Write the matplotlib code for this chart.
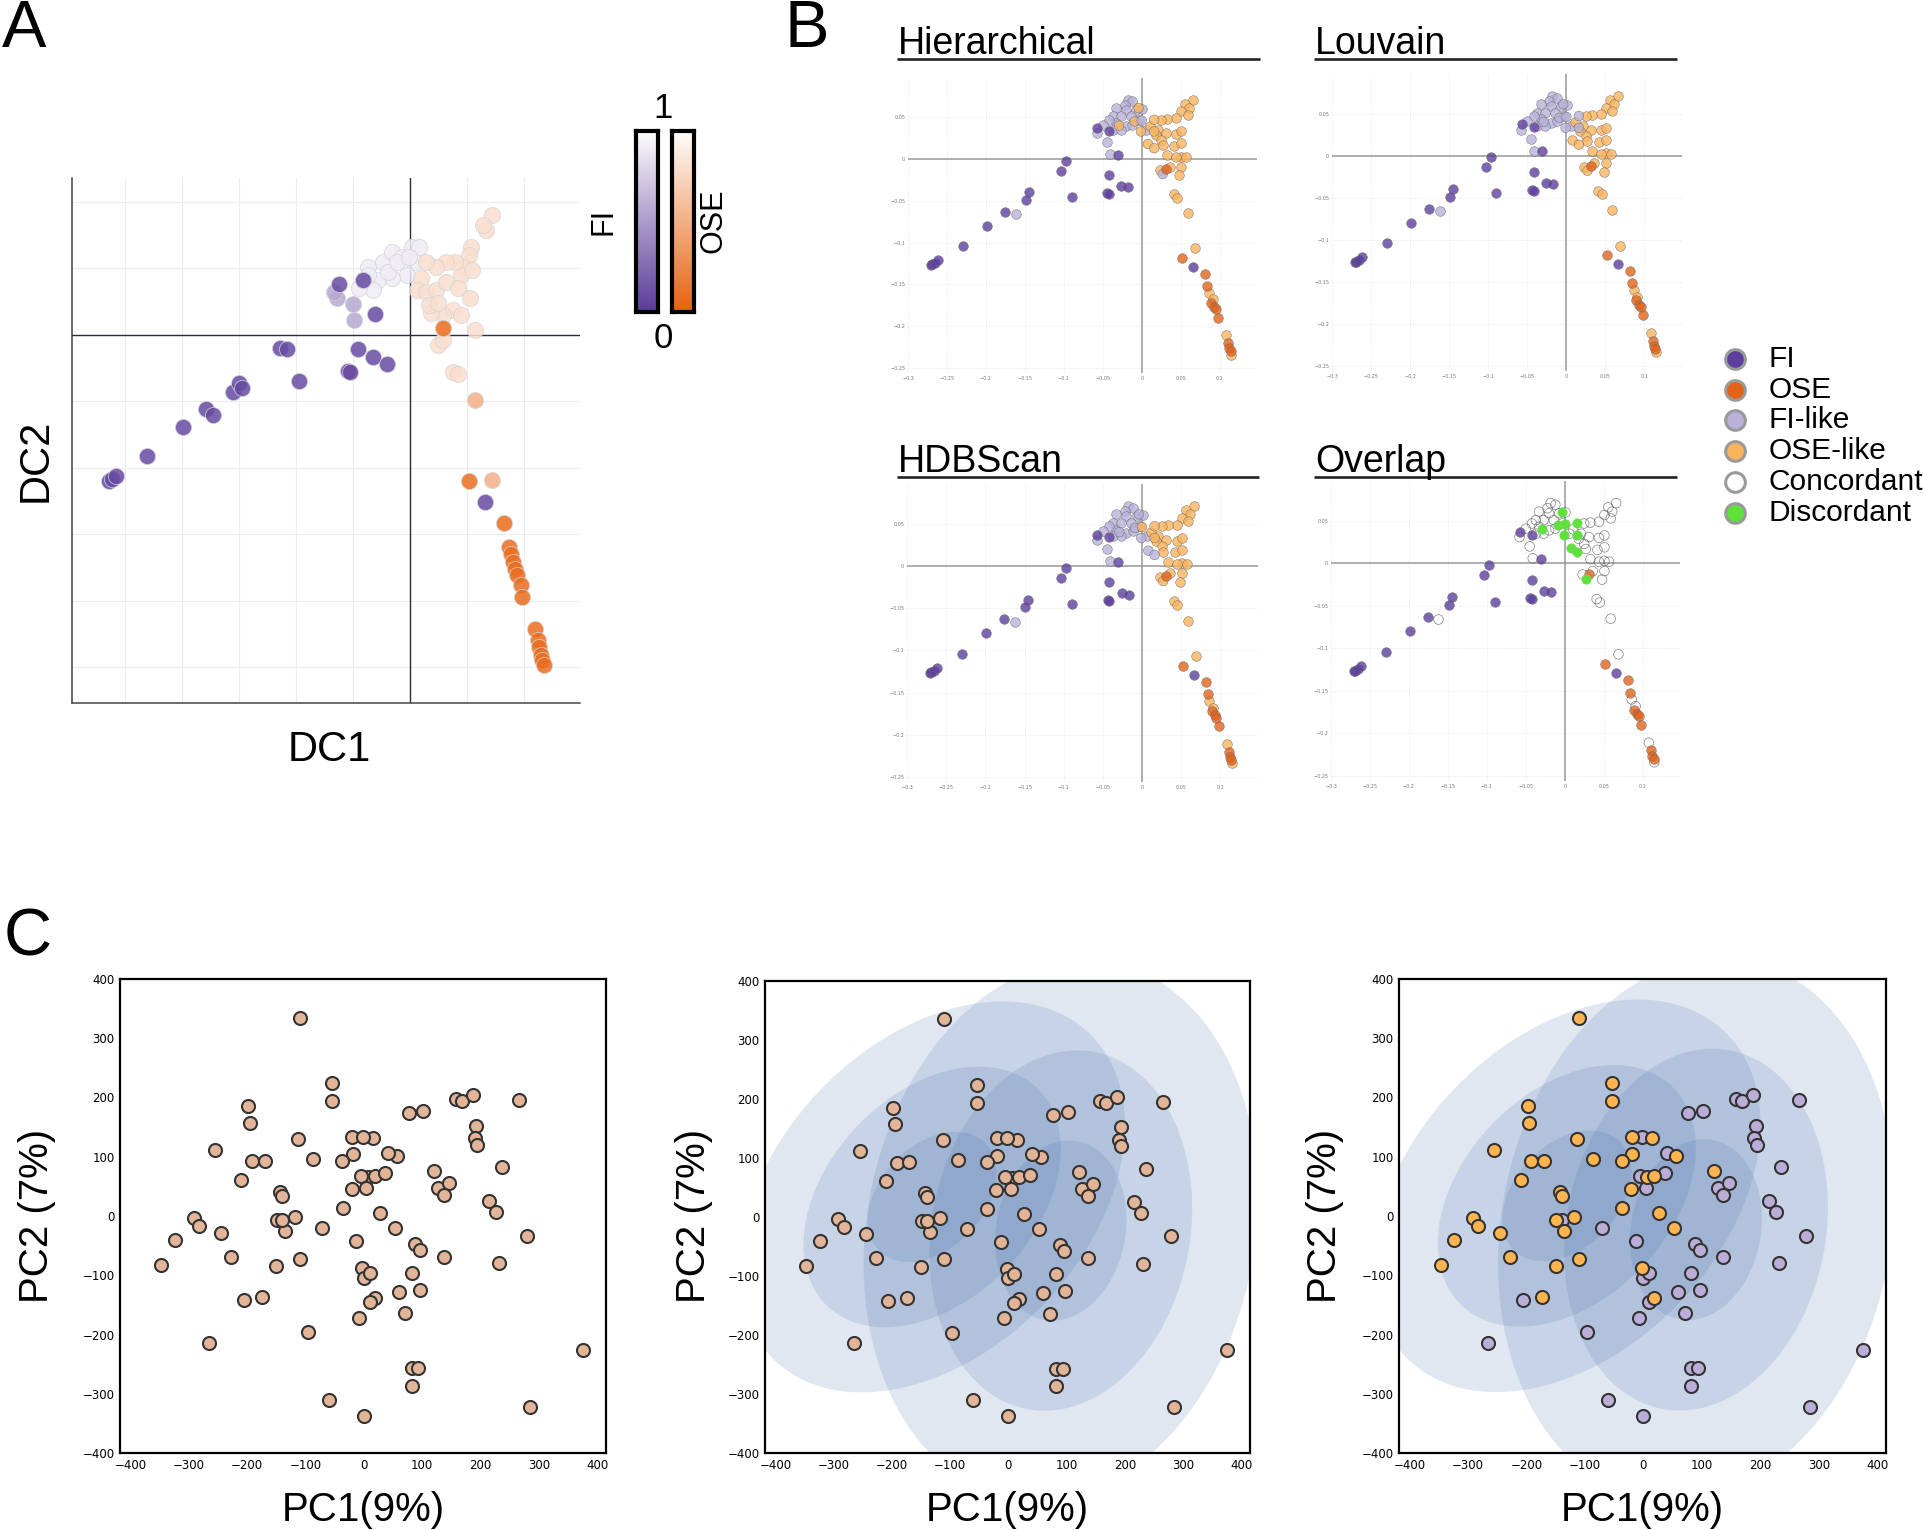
import numpy as np
import matplotlib
matplotlib.use("Agg")
import matplotlib.pyplot as plt
from matplotlib.patches import Ellipse
from matplotlib.colors import LinearSegmentedColormap

W, H = 1924, 1530
SANS = "Liberation Sans"

# ---- panel A: diffusion components (grid units, no ticks shown) -------------
a_fi_x = [-5.29, -5.23, -5.16, -4.63, -3.98, -3.58, -3.46, -3.11, -3.00, -2.96, -2.28,
          -2.16, -1.95, -1.09, -1.06, -0.92, -0.65, -0.41, -0.62, -1.24, -0.83, 1.32]
a_fi_y = [-2.20, -2.17, -2.13, -1.83, -1.38, -1.12, -1.20, -0.86, -0.73, -0.80, -0.20,
          -0.21, -0.69, -0.54, -0.56, -0.21, -0.33, -0.44, 0.32, 0.77, 0.83, -2.51]
a_fimid_x = [-1.29, -0.99, -1.00, -1.33]
a_fimid_y = [0.56, 0.22, 0.47, 0.64]
a_filike_x = [-0.73, -0.48, -0.31, -0.14, 0.03, 0.08, -0.05, -0.31, -0.56, -0.65, -0.90,
              -0.73, -0.39, 0.16, -0.22, -0.01]
a_filike_y = [1.02, 1.09, 1.24, 1.17, 1.32, 1.09, 0.90, 0.86, 0.83, 0.67, 0.71,
              0.90, 0.94, 1.32, 1.09, 1.17]
a_oselike_x = [1.44, 1.34, 1.29, 1.07, 1.04, 0.93, 0.89, 1.10, 0.80, 0.63, 0.46, 0.29,
               0.20, 0.12, 0.29, 0.46, 0.63, 0.84, 1.06, 0.76, 0.59, 0.37, 0.89, 0.33,
               0.50, 1.14, 0.50, 0.59, 0.76, 0.84]
a_oselike_y = [1.80, 1.58, 1.66, 1.32, 1.20, 1.02, 0.90, 0.98, 1.09, 1.09, 1.02, 1.09,
               0.86, 0.67, 0.64, 0.67, 0.79, 0.71, 0.56, 0.37, 0.30, 0.33, 0.30, 0.45,
               0.48, 0.07, -0.16, -0.08, -0.56, -0.59]
a_osemid_x = [1.14, 1.44]
a_osemid_y = [-0.98, -2.19]
a_ose_x = [0.59, 1.03, 1.65, 1.74, 1.78, 1.82, 1.84, 1.89, 1.95, 1.97, 2.20, 2.25,
           2.27, 2.31, 2.33, 2.35]
a_ose_y = [0.11, -2.20, -2.83, -3.19, -3.30, -3.42, -3.53, -3.61, -3.76, -3.95, -4.42,
           -4.59, -4.70, -4.82, -4.89, -4.97]
# colour-bar value given to each group (0 = dark, 1 = white)
a_scores = {"fi": 0.08, "fimid": 0.55, "filike": 0.9, "oselike": 0.8, "osemid": 0.5, "ose": 0.08}

# ---- panel B: DC1 / DC2 with cluster calls ----------------------------------
fi_x = [-0.271, -0.269, -0.265, -0.262, -0.230, -0.199, -0.176, -0.145, -0.149, -0.103,
        -0.097, -0.090, -0.042, -0.044, -0.042, -0.026, -0.017, -0.031, 0.066, -0.057, -0.042]
fi_y = [-0.127, -0.126, -0.124, -0.121, -0.104, -0.080, -0.063, -0.040, -0.049, -0.014,
        -0.002, -0.045, -0.019, -0.041, -0.042, -0.032, -0.034, 0.005, -0.129, 0.037, 0.034]
ose_x = [0.052, 0.081, 0.084, 0.089, 0.093, 0.095, 0.098, 0.111, 0.112, 0.114, 0.031]
ose_y = [-0.118, -0.137, -0.152, -0.172, -0.177, -0.180, -0.190, -0.220, -0.226, -0.230, -0.012]
fil_x = [-0.162, -0.045, -0.041, -0.058, -0.018, -0.012, -0.022, -0.033, -0.020, -0.007,
         0.001, -0.037, -0.027, -0.014, -0.003, -0.033, -0.020, -0.037, -0.027, -0.012,
         0.006, -0.042, -0.050]
fil_y = [-0.066, 0.020, 0.006, 0.031, 0.071, 0.069, 0.065, 0.061, 0.059, 0.059,
         0.060, 0.051, 0.051, 0.051, 0.047, 0.043, 0.039, 0.035, 0.035, 0.041,
         0.035, 0.047, 0.041]
osel_x = [0.066, 0.056, 0.061, 0.051, 0.059, 0.044, 0.033, 0.025, 0.011, 0.021, 0.031,
          0.044, 0.051, 0.018, 0.025, 0.027, 0.042, 0.051, 0.033, 0.051, 0.057, 0.044,
          0.036, 0.051, 0.023, 0.048, 0.041, 0.045, 0.059, 0.069, 0.086, 0.091, 0.108, 0.115]
osel_y = [0.071, 0.066, 0.061, 0.057, 0.053, 0.049, 0.048, 0.047, 0.040, 0.035, 0.031,
          0.030, 0.033, 0.029, 0.023, 0.017, 0.016, 0.019, 0.005, 0.003, 0.002, 0.002,
          -0.009, -0.009, -0.013, -0.019, -0.042, -0.046, -0.065, -0.107, -0.160, -0.168,
          -0.211, -0.234]
# cells the three methods disagree on
dis_x = [-0.029, -0.004, -0.009, 0.000, 0.016, -0.001, 0.016, 0.008, 0.016, 0.027]
dis_y = [0.040, 0.061, 0.045, 0.046, 0.047, 0.033, 0.033, 0.018, 0.013, -0.018]
dis_hier = ["OSE-like", "OSE-like", "OSE-like", "FI-like", "OSE-like", "OSE-like",
            "OSE-like", "OSE-like", "OSE-like", "FI-like"]
dis_louv = ["FI-like", "FI-like", "FI-like", "FI-like", "FI-like", "FI-like",
            "FI-like", "OSE-like", "OSE-like", "OSE-like"]
dis_hdb = ["FI-like", "FI-like", "FI-like", "OSE-like", "OSE-like", "FI-like",
           "OSE-like", "FI-like", "FI-like", "OSE-like"]
b_ticks_x = [-0.3, -0.25, -0.2, -0.15, -0.1, -0.05, 0, 0.05, 0.1]
b_ticks_y = [-0.25, -0.2, -0.15, -0.1, -0.05, 0, 0.05]

# ---- panel C: PCA ------------------------------------------------------------
c_or_x = [-110, -54, -54, -198, -195, -255, -192, -170, -210, -113, -87, -143, -140, -292,
          -283, -324, -245, -347, -228, -149, -135, -118, -150, -110, -174, -20, 15, -19,
          -37, 7, 19, -21, -36, 27, 56, 121, 53, -3, 19]
c_or_y = [335, 224, 194, 185, 157, 112, 92, 93, 61, 130, 96, 41, 34, -4,
          -17, -41, -28, -83, -70, -6, -25, -2, -85, -72, -137, 134, 131, 104,
          93, 66, 68, 45, 13, 5, 102, 76, -20, -88, -139]
c_pu_x = [-140, -71, -206, -265, -96, -60, 0, -2, -5, 37, 4, 41, 77, 102, 127, 146, 137,
          158, 168, 187, 193, 190, 194, 266, 236, 215, 227, 279, 232, 376, 285, -13, 88,
          96, 137, 0, 10, 82, 97, 60, 10, -8, 71, 82, 93, 82]
c_pu_y = [-6, -20, -142, -214, -196, -311, -337, 134, 68, 72, 47, 106, 173, 178, 47, 56, 36,
          197, 194, 204, 152, 131, 120, 195, 82, 25, 7, -33, -80, -226, -322, -42, -47,
          -58, -69, -104, -97, -96, -125, -129, -145, -172, -164, -257, -257, -287]
# confidence ellipses (1, 2, 3 sd) of the two groups
ell_cx = [-131, 90]
ell_cy = [34, -23]
ell_a = [129, 154]
ell_b = [88, 111]
ell_ang = [45, 79]
ell_k = [1, 2, 3]

C_FI, C_OSE = "#5d3f9e", "#e2631b"
C_FIL, C_OSEL = "#b9b1da", "#fbb45e"
C_DIS = "#5ee23a"
FI_CMAP = LinearSegmentedColormap.from_list("fi", ["#5a3b99", "#ffffff"])
OSE_CMAP = LinearSegmentedColormap.from_list("ose", ["#e8610c", "#ffffff"])
LAB_COL = {"FI-like": C_FIL, "OSE-like": C_OSEL}

fig = plt.figure(figsize=(W / 100, H / 100), dpi=100)


def box(l, t, w, h):
    return fig.add_axes([l / W, 1 - (t + h) / H, w / W, h / H])


# ---- A -------------------------------------------------------------------------
axA = box(72, 178, 508, 525)
axA.set_xlim(-5.94, 2.99); axA.set_ylim(-5.54, 2.36)
axA.set_xticks(range(-5, 3)); axA.set_yticks(range(-5, 3))
axA.tick_params(length=0, labelbottom=False, labelleft=False)
axA.grid(True, color="#ececf0", lw=0.8)
for s in ("top", "right"):
    axA.spines[s].set_visible(False)
for s in ("left", "bottom"):
    axA.spines[s].set_color("#444"); axA.spines[s].set_linewidth(1.1)
axA.axvline(0, color="#2a2a44", lw=1.0, zorder=2)
axA.axhline(0, color="#2a2a44", lw=1.0, zorder=2)
for xs, ys, key, cm in [(a_filike_x, a_filike_y, "filike", FI_CMAP),
                        (a_oselike_x, a_oselike_y, "oselike", OSE_CMAP),
                        (a_fimid_x, a_fimid_y, "fimid", FI_CMAP),
                        (a_osemid_x, a_osemid_y, "osemid", OSE_CMAP),
                        (a_fi_x, a_fi_y, "fi", FI_CMAP),
                        (a_ose_x, a_ose_y, "ose", OSE_CMAP)]:
    axA.scatter(xs, ys, s=135, color=cm(a_scores[key]), alpha=0.85,
                edgecolors="#d4d4d8", linewidths=0.6, zorder=3)

grad = np.linspace(0, 1, 256)[:, None]
for l, cm in [(636, FI_CMAP), (672, OSE_CMAP)]:
    cb = box(l, 131, 22, 181)
    cb.imshow(grad, cmap=cm, origin="lower", aspect="auto")
    cb.set_xticks([]); cb.set_yticks([])
    for s in cb.spines.values():
        s.set_linewidth(3); s.set_color("black")

# ---- B -------------------------------------------------------------------------
def fmt(v):
    return "0" if v == 0 else f"{v:g}".replace("-", "\u2212")


def b_axes(l, t, w, h):
    ax = box(l, t, w, h)
    ax.set_xlim(-0.3, 0.148); ax.set_ylim(-0.256, 0.097)
    ax.set_xticks(b_ticks_x); ax.set_yticks(b_ticks_y)
    ax.set_xticklabels([fmt(v) for v in b_ticks_x])
    ax.set_yticklabels([fmt(v) for v in b_ticks_y])
    ax.tick_params(length=0, labelsize=3.5, labelcolor="#777", pad=2)
    ax.grid(True, color="#eeeeee", lw=0.6, ls=(0, (2, 1)))
    for s in ax.spines.values():
        s.set_visible(False)
    ax.axvline(0, color="#999", lw=1.1, zorder=2)
    ax.axhline(0, color="#999", lw=1.1, zorder=2)
    return ax


kw = dict(s=48, alpha=0.8, edgecolors="#666", linewidths=0.4, zorder=3)
for (l, t, w, h), labels in [((908, 78, 349, 295), dis_hier),
                             ((1332, 74, 350, 297), dis_louv),
                             ((907, 484, 351, 298), dis_hdb)]:
    ax = b_axes(l, t, w, h)
    ax.scatter(fil_x, fil_y, color=C_FIL, **kw)
    ax.scatter(osel_x, osel_y, color=C_OSEL, **kw)
    ax.scatter(dis_x, dis_y, color=[LAB_COL[c] for c in labels], **kw)
    ax.scatter(fi_x, fi_y, color=C_FI, **kw)
    ax.scatter(ose_x, ose_y, color=C_OSE, **kw)

axO = b_axes(1331, 481, 349, 300)
axO.scatter(fil_x + osel_x, fil_y + osel_y, s=48, facecolors="none",
            edgecolors="#555", linewidths=0.5, alpha=0.75, zorder=3)
axO.scatter(dis_x, dis_y, color=C_DIS, s=48, edgecolors="#8c8", linewidths=0.3, zorder=4)
axO.scatter(fi_x, fi_y, color=C_FI, **kw)
axO.scatter(ose_x, ose_y, color=C_OSE, **kw)

# ---- C -------------------------------------------------------------------------
C_TAN, C_OR, C_PU = "#e3b598", "#ffb44f", "#baaed9"


def c_axes(l, t, w, h, ellipses):
    ax = box(l, t, w, h)
    ax.set_xlim(-418, 415); ax.set_ylim(-400, 400)
    ax.set_xticks(range(-400, 401, 100)); ax.set_yticks(range(-400, 401, 100))
    ax.tick_params(length=0, labelsize=8.5, pad=4)
    for s in ax.spines.values():
        s.set_linewidth(1.6); s.set_color("black")
    if ellipses:
        for cx, cy, a, b, ang in zip(ell_cx, ell_cy, ell_a, ell_b, ell_ang):
            for k in ell_k:
                ax.add_patch(Ellipse((cx, cy), 2 * k * a, 2 * k * b, angle=ang,
                                     facecolor="#4c72b0", edgecolor="none",
                                     alpha=0.17, zorder=1))
    return ax


ckw = dict(s=88, edgecolors="#333", linewidths=1.5, zorder=3)
ax = c_axes(120, 979, 486, 474, False)
ax.scatter(c_or_x + c_pu_x, c_or_y + c_pu_y, color=C_TAN, **ckw)
ax = c_axes(765, 981, 485, 472, True)
ax.scatter(c_or_x + c_pu_x, c_or_y + c_pu_y, color=C_TAN, **ckw)
ax = c_axes(1399, 979, 487, 474, True)
ax.scatter(c_pu_x, c_pu_y, color=C_PU, **ckw)
ax.scatter(c_or_x, c_or_y, color=C_OR, **ckw)

# ---- overlay: panel letters, labels, titles, legend ---------------------------
ov = fig.add_axes([0, 0, 1, 1])
ov.set_xlim(0, W); ov.set_ylim(H, 0); ov.axis("off")

for x, y, s in [(2, 47, "A"), (785, 47, "B"), (4, 955, "C")]:
    ov.text(x, y, s, fontsize=48, family=SANS, va="baseline")

ov.text(329, 761, "DC1", fontsize=30, family=SANS, ha="center", va="baseline")
ov.text(36, 460, "DC2", fontsize=30, family=SANS, ha="center", va="center", rotation=90)
ov.text(663, 108, "1", fontsize=25, family=SANS, ha="center", va="center")
ov.text(663, 338, "0", fontsize=25, family=SANS, ha="center", va="center")
ov.text(604, 221, "FI", fontsize=22, family=SANS, ha="center", va="center", rotation=90)
ov.text(714, 221, "OSE", fontsize=22, family=SANS, ha="center", va="center", rotation=90)

for x0, x1, yb, yl, title in [(897, 1260, 54, 59, "Hierarchical"),
                              (1314, 1677, 54, 59, "Louvain"),
                              (897, 1259, 472, 477, "HDBScan"),
                              (1314, 1677, 472, 477, "Overlap")]:
    ov.text(x0 + 1, yb, title, fontsize=27, family=SANS, va="baseline")
    ov.plot([x0, x1], [yl, yl], color="#222", lw=1.9, solid_capstyle="butt")

leg = [("FI", C_FI), ("OSE", C_OSE), ("FI-like", C_FIL), ("OSE-like", C_OSEL),
       ("Concordant", "white"), ("Discordant", C_DIS)]
for i, (lab, col) in enumerate(leg):
    y = 359 + 30.7 * i
    ov.scatter([1735], [y], s=200, color=col, edgecolors="#9a9a9a", linewidths=2.2)
    ov.text(1769, y, lab, fontsize=21.5, family=SANS, va="center")

for cx, px in [(363, 37), (1007, 694), (1642, 1325)]:
    ov.text(cx, 1521, "PC1(9%)", fontsize=29, family=SANS, ha="center", va="baseline")
    ov.text(px, 1216, "PC2 (7%)", fontsize=29, family=SANS, ha="center", va="center",
            rotation=90)

fig.savefig("out.png", dpi=100)
